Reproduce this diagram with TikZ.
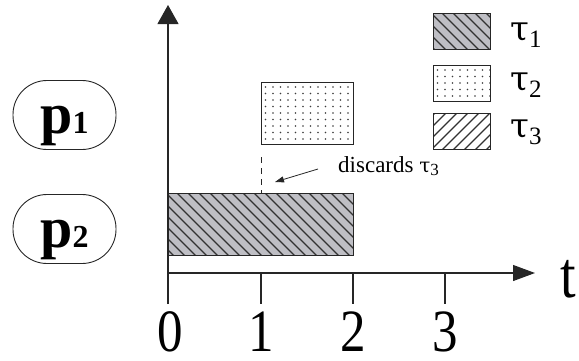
\documentclass[tikz,border=0pt]{standalone}
\usepackage{fontspec}
\usepackage{graphicx}
\setmainfont{Liberation Serif}
\newfontfamily\grk{DejaVu Serif}
\usetikzlibrary{arrows.meta,calc}
\definecolor{hgray}{RGB}{190,190,196}
\definecolor{hline}{RGB}{50,50,50}
\definecolor{dotc}{RGB}{60,60,60}
\newcommand\squash[1]{\scalebox{0.85}[1]{#1}}
\newcommand\plab[1]{{\fontsize{58}{58}\selectfont\bfseries p}{\fontsize{32}{32}\selectfont\bfseries #1}}
\newcommand\taulab[1]{{\grk\fontsize{34}{34}\selectfont τ}\raisebox{-7pt}{\fontsize{25}{25}\selectfont #1}}
\tikzset{
  box/.style={draw=black!85, line width=1pt, inner sep=0pt, anchor=north west},
  tauone/.style={box, fill=hgray, path picture={
      \foreach \i in {-90,-79,...,200}
        \draw[hline, line width=1.3pt] ($(path picture bounding box.north west)+(\i pt,0pt)$) -- ++(90pt,-90pt);}},
  tauthree/.style={box, fill=white, path picture={
      \foreach \i in {-90,-79,...,200}
        \draw[hline, line width=1.3pt] ($(path picture bounding box.south west)+(\i pt,0pt)$) -- ++(90pt,90pt);}},
  tautwo/.style={box, fill=white, path picture={
      \foreach \xx in {4,11.5,...,100}
        \foreach \yy in {4.5,11,...,66}
          \fill[dotc] ($(path picture bounding box.north west)+(\xx pt,-\yy pt)$) circle (0.85pt);}},
  axis/.style={line width=1.1pt, black!85},
  digit/.style={anchor=base, inner sep=0pt, font=\fontsize{60}{60}\selectfont},
  proc/.style={draw=black!85, line width=0.9pt, rounded corners=34pt, minimum width=103pt,
      minimum height=69pt, inner sep=0pt, text height=36pt, text depth=0pt},
  leglab/.style={anchor=base west, inner sep=0pt},
}
\begin{document}
\begin{tikzpicture}[x=1pt,y=-1pt]
\useasboundingbox (0,0) rectangle (579,360);
% processors
\node[proc] (p1) at (64.5,115) {\plab{1}};
\node[proc] (p2) at (64.5,229) {\plab{2}};
% task boxes
\node[tauone, minimum width=185pt, minimum height=62pt] (bar) at (168,193) {};
\node[tautwo, minimum width=92pt, minimum height=62pt] (t2) at (261,82) {};
% legend
\node[tauone, minimum width=57pt, minimum height=36pt] (l1) at (433,13) {};
\node[tautwo, minimum width=57pt, minimum height=36pt] (l2) at (433,65) {};
\node[tauthree, minimum width=57pt, minimum height=36pt] (l3) at (433,113) {};
\node[leglab] (lt1) at (510,40) {\taulab{1}};
\node[leglab] (lt2) at (510,90) {\taulab{2}};
\node[leglab] (lt3) at (510,137) {\taulab{3}};
% axes
\coordinate (O) at (168,273);
\coordinate (ytop) at (168,5);
\coordinate (ybot) at (168,304);
\coordinate (xend) at (535,273);
\draw[axis, -{Triangle[length=19pt,width=21pt]}] (ybot) -- (ytop);
\draw[axis, -{Triangle[length=22pt,width=16pt]}] (O) -- (xend);
\foreach \k/\xx in {1/261,2/353,3/445} {
  \coordinate (tk\k a) at (\xx,273);
  \coordinate (tk\k b) at (\xx,304);
  \draw[axis] (tk\k a) -- (tk\k b);
}
\node[digit] (n0) at (170,351) {\squash{0}};
\node[digit] (n1) at (261,351) {\squash{1}};
\node[digit] (n2) at (353,351) {\squash{2}};
\node[digit] (n3) at (445,351) {\squash{3}};
\node[anchor=base west, inner sep=0pt, font=\fontsize{66}{66}\selectfont] (tl) at (560,297) {\squash{t}};
% discard annotation
\coordinate (dtop) at (261,157);
\coordinate (dbot) at (261,193);
\draw[black!85, line width=0.9pt, dash pattern=on 6pt off 5pt] (dtop) -- (dbot);
\node[anchor=base west, inner sep=0pt, font=\fontsize{23}{23}\selectfont] (disc) at (338,172)
  {discards {\grk\fontsize{20}{20}\selectfont τ}\raisebox{-3pt}{\fontsize{17}{17}\selectfont 3}};
\coordinate (arrS) at (318,169);
\coordinate (arrE) at (275,182);
\draw[black!85, line width=0.8pt, -{Triangle[length=9pt,width=6pt]}] (arrS) -- (arrE);
\end{tikzpicture}
\end{document}
